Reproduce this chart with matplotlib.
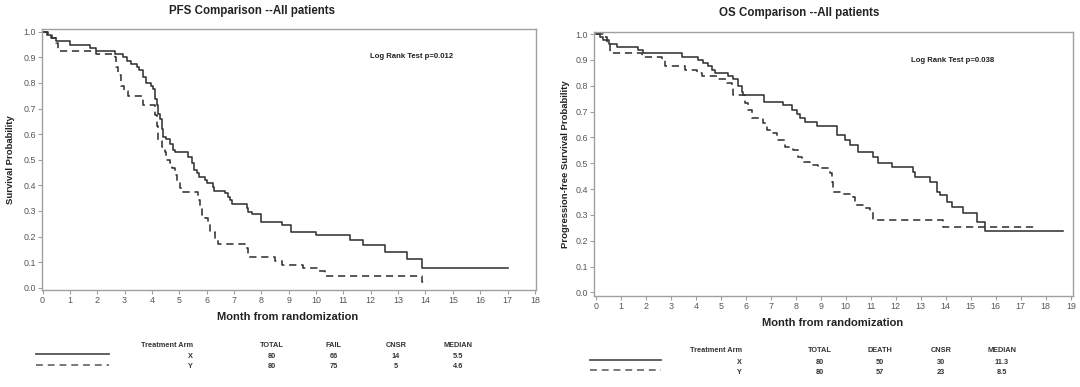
import matplotlib
matplotlib.use("Agg")
import matplotlib.pyplot as plt
from matplotlib.lines import Line2D

plt.rcParams['font.family'] = ['Liberation Sans', 'DejaVu Sans']

# ---------------- data ----------------
pfs_x_t = [0, 0.15, 0.3, 0.51, 1.0, 1.73, 1.97, 2.64, 2.95, 3.07, 3.25, 3.44, 3.53, 3.68, 3.8,
           3.95, 4.02, 4.1, 4.17, 4.23, 4.29, 4.35, 4.41, 4.53, 4.65, 4.78, 4.84, 5.32, 5.45,
           5.54, 5.63, 5.73, 5.93, 6.0, 6.24, 6.27, 6.67, 6.79, 6.85, 6.93, 7.46, 7.52, 7.64,
           7.97, 8.74, 9.1, 9.99, 11.24, 11.7, 12.52, 13.31, 13.86, 17.0]
pfs_x_s = [1.0, 0.9875, 0.975, 0.9625, 0.95, 0.9375, 0.925, 0.9125, 0.9, 0.8875, 0.875, 0.8625,
           0.85, 0.825, 0.80, 0.7875, 0.775, 0.7375, 0.7125, 0.68, 0.66, 0.62, 0.59, 0.58, 0.56,
           0.54, 0.53, 0.512, 0.486, 0.46, 0.447, 0.434, 0.421, 0.408, 0.395, 0.378, 0.369, 0.355,
           0.343, 0.327, 0.31, 0.297, 0.287, 0.258, 0.245, 0.219, 0.206, 0.186, 0.167, 0.141,
           0.112, 0.076, 0.076]

pfs_y_t = [0, 0.21, 0.33, 0.49, 0.57, 1.97, 2.64, 2.7, 2.77, 2.85, 2.97, 3.13, 3.68, 4.1, 4.17,
           4.23, 4.35, 4.47, 4.53, 4.65, 4.72, 4.84, 4.9, 5.02, 5.14, 5.69, 5.75, 5.84, 5.93,
           6.06, 6.12, 6.3, 6.42, 7.4, 7.52, 8.49, 8.74, 9.53, 10.02, 10.32, 13.86, 14.1]
pfs_y_s = [1.0, 0.9875, 0.975, 0.955, 0.925, 0.915, 0.9, 0.8625, 0.83, 0.79, 0.77, 0.75, 0.7125,
           0.675, 0.63, 0.575, 0.55, 0.53, 0.5, 0.486, 0.466, 0.44, 0.414, 0.388, 0.375, 0.343,
           0.316, 0.284, 0.271, 0.252, 0.219, 0.189, 0.171, 0.154, 0.121, 0.104, 0.089, 0.076,
           0.065, 0.046, 0.021, 0.021]

os_x_t = [0, 0.17, 0.3, 0.53, 0.84, 1.70, 1.9, 3.44, 4.1, 4.3, 4.5, 4.64, 4.77, 5.3, 5.5, 5.7,
          5.84, 5.9, 6.71, 7.5, 7.84, 8.04, 8.17, 8.37, 8.84, 9.64, 9.97, 10.17, 10.5, 11.1,
          11.3, 11.84, 12.7, 12.77, 13.37, 13.64, 13.77, 14.04, 14.24, 14.7, 15.24, 15.57, 18.7]
os_x_s = [1.0, 0.9875, 0.975, 0.9625, 0.95, 0.9375, 0.925, 0.9125, 0.9, 0.8875, 0.875, 0.8625,
          0.85, 0.8375, 0.825, 0.80, 0.775, 0.7625, 0.7375, 0.725, 0.705, 0.69, 0.675, 0.66,
          0.645, 0.61, 0.59, 0.57, 0.545, 0.525, 0.50, 0.485, 0.467, 0.448, 0.428, 0.39, 0.377,
          0.351, 0.331, 0.306, 0.273, 0.238, 0.238]

os_y_t = [0, 0.3, 0.44, 0.57, 1.84, 2.64, 2.77, 3.57, 4.04, 4.24, 4.84, 5.24, 5.44, 5.5, 5.97,
          6.1, 6.24, 6.7, 6.84, 7.04, 7.24, 7.57, 7.9, 8.1, 8.24, 8.57, 8.9, 9.37, 9.45, 9.5,
          9.9, 10.3, 10.37, 10.7, 10.97, 11.1, 13.9, 17.57]
os_y_s = [1.0, 0.9875, 0.9625, 0.925, 0.9125, 0.9, 0.875, 0.8625, 0.85, 0.8375, 0.825, 0.81,
          0.796, 0.764, 0.732, 0.706, 0.674, 0.654, 0.628, 0.615, 0.589, 0.564, 0.551, 0.525,
          0.506, 0.493, 0.48, 0.461, 0.428, 0.389, 0.38, 0.37, 0.338, 0.325, 0.312, 0.28,
          0.254, 0.254]

pfs_table_header = ["Treatment Arm", "TOTAL", "FAIL", "CNSR", "MEDIAN"]
pfs_table_rows = [["X", "80", "66", "14", "5.5"], ["Y", "80", "75", "5", "4.6"]]
os_table_header = ["Treatment Arm", "TOTAL", "DEATH", "CNSR", "MEDIAN"]
os_table_rows = [["X", "80", "50", "30", "11.3"], ["Y", "80", "57", "23", "8.5"]]

# ---------------- layout ----------------
W, H = 1080, 387
fig = plt.figure(figsize=(W / 100, H / 100), dpi=100)
fig.patch.set_facecolor('white')


def fx(x):
    return x / W


def fy(y):
    return 1 - y / H


LINE_C = '#333333'
SPINE_C = '#a0a0a0'
TICK_C = '#555555'


def make_axes(l, t, r, b, xlim, xmax_tick, ylim):
    ax = fig.add_axes([fx(l), fy(b), fx(r) - fx(l), (b - t) / H])
    ax.set_xlim(*xlim)
    ax.set_ylim(*ylim)
    ax.set_xticks(range(0, xmax_tick + 1))
    ax.set_yticks([i / 10 for i in range(11)])
    ax.set_yticklabels([f"{i / 10:.1f}" for i in range(11)])
    for s in ax.spines.values():
        s.set_color(SPINE_C)
        s.set_linewidth(1.0)
    ax.tick_params(direction='out', length=2.8, width=0.8, color=SPINE_C,
                   labelsize=6.4, labelcolor=TICK_C, pad=1.6)
    return ax


ax1 = make_axes(42, 29, 536, 290, (-0.02, 18.04), 18, (-0.009, 1.011))
ax2 = make_axes(594, 31.7, 1073.3, 295.7, (-0.07, 19.1), 19, (-0.013, 1.009))

for ax, (xt, xs), (yt, ys) in [(ax1, (pfs_x_t, pfs_x_s), (pfs_y_t, pfs_y_s)),
                               (ax2, (os_x_t, os_x_s), (os_y_t, os_y_s))]:
    ax.plot(xt, xs, drawstyle='steps-post', color=LINE_C, lw=1.15)
    ax.plot(yt, ys, drawstyle='steps-post', color=LINE_C, lw=1.15, dashes=(4.5, 3))

# titles
fig.text(fx(252), fy(11), "PFS Comparison --All patients", ha='center', va='center',
         fontsize=8.3, fontweight='bold', color='#222222')
fig.text(fx(799), fy(13), "OS Comparison --All patients", ha='center', va='center',
         fontsize=8.3, fontweight='bold', color='#222222')

# log rank
fig.text(fx(412), fy(57), "Log Rank Test p=0.012", ha='center', va='center',
         fontsize=5.6, fontweight='bold', color='#222222')
fig.text(fx(953), fy(60), "Log Rank Test p=0.038", ha='center', va='center',
         fontsize=5.6, fontweight='bold', color='#222222')

# axis labels
fig.text(fx(11), fy(160), "Survival Probability", rotation=90, ha='center', va='center',
         fontsize=6.8, fontweight='bold', color='#222222')
fig.text(fx(565.5), fy(164), "Progression-free Survival Probability", rotation=90,
         ha='center', va='center', fontsize=6.8, fontweight='bold', color='#222222')
fig.text(fx(288), fy(317), "Month from randomization", ha='center', va='center',
         fontsize=8.0, fontweight='bold', color='#222222')
fig.text(fx(833), fy(322.7), "Month from randomization", ha='center', va='center',
         fontsize=8.0, fontweight='bold', color='#222222')


# tables
def draw_table(header, rows, line_x0, line_x1, y_solid, y_dash, y_head, y_rows,
               arm_right, col_centers):
    fig.add_artist(Line2D([fx(line_x0), fx(line_x1)], [fy(y_solid)] * 2, color='#555555',
                          lw=1.3, transform=fig.transFigure))
    fig.add_artist(Line2D([fx(line_x0), fx(line_x1)], [fy(y_dash)] * 2, color='#555555',
                          lw=1.1, dashes=(4.5, 3.2), transform=fig.transFigure))
    kw = dict(fontsize=5.3, fontweight='bold', color='#333333', va='center')
    fig.text(fx(arm_right), fy(y_head), header[0], ha='right', **kw)
    for cx, h in zip(col_centers, header[1:]):
        fig.text(fx(cx), fy(y_head), h, ha='center', **kw)
    for yr, row in zip(y_rows, rows):
        fig.text(fx(arm_right), fy(yr), row[0], ha='right', **kw)
        for cx, v in zip(col_centers, row[1:]):
            fig.text(fx(cx), fy(yr), v, ha='center', **kw)


draw_table(pfs_table_header, pfs_table_rows, 36, 109, 354.3, 364.7, 345.3, [356.7, 366],
           193, [272, 334, 396, 457.7])
draw_table(os_table_header, os_table_rows, 590, 661, 360, 370, 350.3, [362.3, 372],
           742, [820.3, 880, 941, 1001.7])

fig.savefig("out.png", dpi=100, facecolor='white')
